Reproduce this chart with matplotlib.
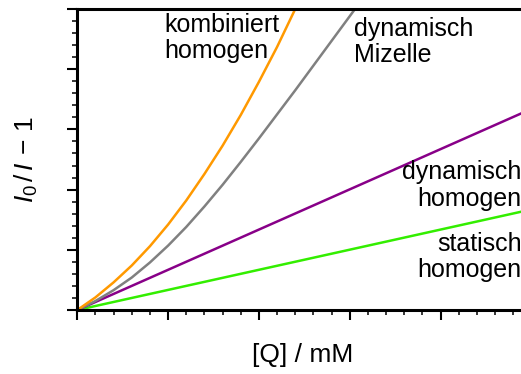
import matplotlib
matplotlib.use('Agg')
import matplotlib.pyplot as plt
from matplotlib.ticker import MultipleLocator

plt.rcParams['font.family'] = ['Liberation Sans', 'DejaVu Sans']
plt.rcParams['mathtext.fontset'] = 'custom'
plt.rcParams['mathtext.rm'] = 'Liberation Sans'
plt.rcParams['mathtext.it'] = 'Liberation Sans:italic'

# Stern-Volmer curves, [Q] in mM against I0/I - 1
q_static = [0.0, 5.0]
sv_static = [0.0, 1.67]

q_dyn = [0.0, 5.0]
sv_dyn = [0.0, 3.34]

q_micelle = [0.0, 0.2, 0.4, 0.6, 0.8, 1.0, 1.2, 1.4, 1.6, 1.8, 2.0, 2.2, 2.4, 2.6, 2.8, 3.0, 3.2]
sv_micelle = [0.0, 0.15, 0.33, 0.54, 0.79, 1.07, 1.38, 1.72, 2.08, 2.46, 2.85, 3.25, 3.65, 4.06, 4.47, 4.88, 5.29]

q_comb = [0.0, 0.2, 0.4, 0.6, 0.8, 1.0, 1.2, 1.4, 1.6, 1.8, 2.0, 2.2, 2.4, 2.6]
sv_comb = [0.0, 0.21, 0.46, 0.74, 1.06, 1.42, 1.82, 2.26, 2.73, 3.24, 3.79, 4.37, 5.0, 5.66]

labels = ['statisch\nhomogen', 'dynamisch\nhomogen', 'dynamisch\nMizelle', 'kombiniert\nhomogen']
colors = ['#33ee00', '#880088', '#808080', '#ff9900']

fig = plt.figure(figsize=(5.21, 3.74), dpi=100)
# axes run past the right edge of the figure on purpose
ax = fig.add_axes([0.1484, 0.1711, 0.8714, 0.8048])

for q, sv, c in zip([q_static, q_dyn, q_micelle, q_comb],
                    [sv_static, sv_dyn, sv_micelle, sv_comb], colors):
    ax.plot(q, sv, color=c, lw=1.8, solid_capstyle='butt')

ax.set_xlim(0, 5)
ax.set_ylim(0, 5)

ax.xaxis.set_major_locator(MultipleLocator(1))
ax.xaxis.set_minor_locator(MultipleLocator(0.2))
ax.yaxis.set_major_locator(MultipleLocator(1))
ax.yaxis.set_minor_locator(MultipleLocator(0.2))
ax.tick_params(which='both', direction='out', labelbottom=False, labelleft=False,
               top=False, right=False)
ax.tick_params(which='major', length=7.5, width=1.5)
ax.tick_params(which='minor', length=3.8, width=1.1)
for s in ax.spines.values():
    s.set_linewidth(2.2)

# the va='baseline' anchor sits on the last line of each label
fs = 18
ls = 1.13
ax.text(0.957, 4.18, labels[3], fontsize=fs, ha='left', va='baseline', linespacing=ls)
ax.text(3.047, 4.12, labels[2], fontsize=fs, ha='left', va='baseline', linespacing=ls)
ax.text(4.895, 1.73, labels[1], fontsize=fs, ha='right', va='baseline', linespacing=ls,
        multialignment='right')
ax.text(4.895, 0.545, labels[0], fontsize=fs, ha='right', va='baseline', linespacing=ls,
        multialignment='right')

ax.set_xlabel('[Q] / mM', fontsize=19)
ax.xaxis.set_label_coords(0.497, -0.11)
ax.set_ylabel(r'$I_0\,/\,I\,-\,1$', fontsize=19, va='center')
ax.yaxis.set_label_coords(-0.113, 0.5)

fig.savefig('out.png', dpi=100)
